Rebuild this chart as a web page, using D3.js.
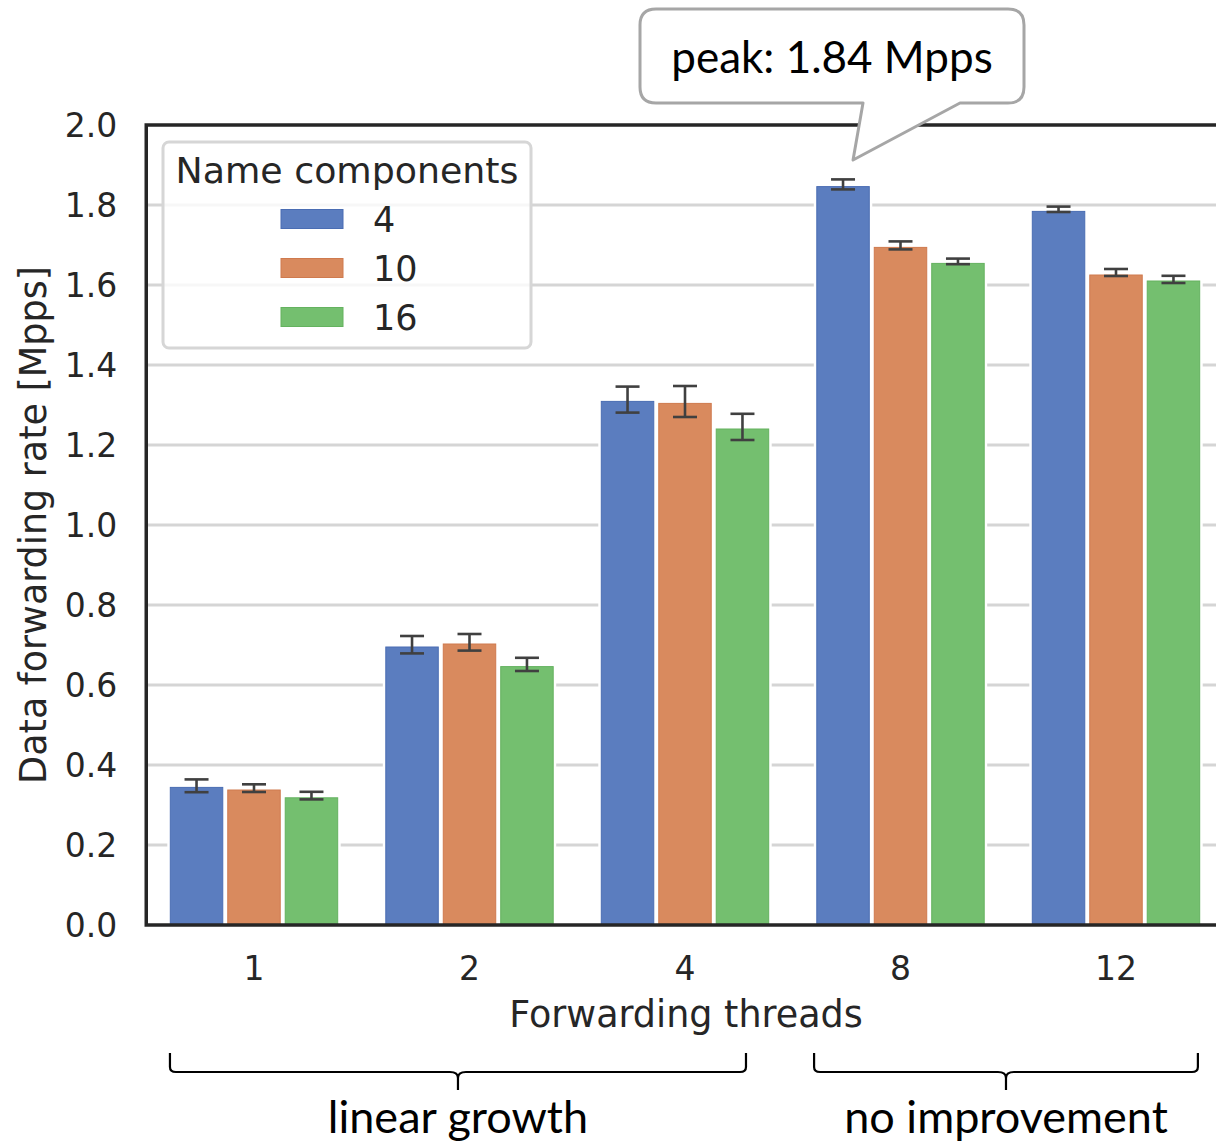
<!DOCTYPE html>
<html><head><meta charset="utf-8">
<script src="https://cdn.jsdelivr.net/npm/d3@7"></script>
<style>html,body{margin:0;padding:0;background:#fff;} svg{display:block;}</style>
</head><body><svg id="c" width="1216" height="1142"></svg>
<script>
const threads = ["1","2","4","8","12"];
const series = ["4","10","16"];
const colors = ["#5b7dbf","#d98a5e","#74bf6f"];
const edgeColors = ["#4a6db3","#cf7a4e","#64b25f"];
// mean values per series (Name components), per thread count
const means = [
  [0.344, 0.695, 1.309, 1.846, 1.784],
  [0.3375, 0.7025, 1.304, 1.694, 1.625],
  [0.318, 0.646, 1.240, 1.654, 1.610]
];
const ciLow = [
  [0.332, 0.679, 1.281, 1.839, 1.7825],
  [0.3325, 0.686, 1.270, 1.689, 1.6225],
  [0.314, 0.635, 1.2125, 1.652, 1.605]
];
const ciHigh = [
  [0.364, 0.7225, 1.346, 1.864, 1.796],
  [0.3517, 0.7275, 1.3475, 1.709, 1.640],
  [0.333, 0.668, 1.278, 1.666, 1.623]
];
const yTicks = [0,0.2,0.4,0.6,0.8,1.0,1.2,1.4,1.6,1.8,2.0];
const legendTitle = "Name components";
const xLabel = "Forwarding threads";
const yLabel = "Data forwarding rate [Mpps]";
const peakLabel = "peak: 1.84 Mpps";
const braceLabels = ["linear growth", "no improvement"];
const braceFrom = ["1", "8"];
const braceTo = ["4", "12"];

const svg = d3.select("#c");
const L = 146.25, R = 1223.75, T = 125, B = 925;
const x0 = d3.scaleBand().domain(threads).range([L, R]).padding(0);
const step = x0.bandwidth();
const x1 = d3.scaleBand().domain(series).range([0.1*step, 0.9*step]).padding(0);
const y = d3.scaleLinear().domain([0, 2.0]).range([B, T]);
const axisFont = "DejaVu Sans";
const annFont = "Lato, 'Open Sans', sans-serif";
const txt = "#262626";

// gridlines
svg.append("g").selectAll("line").data(yTicks.slice(1, -1)).join("line")
  .attr("x1", L).attr("x2", R).attr("y1", d => y(d)).attr("y2", d => y(d))
  .attr("stroke", "#d5d5d5").attr("stroke-width", 3);

// bars
const bars = svg.append("g");
series.forEach((s, si) => {
  threads.forEach((t, ti) => {
    const bx = x0(t) + x1(s);
    const bw = x1.bandwidth();
    const v = means[si][ti];
    bars.append("rect")
      .attr("x", bx - 0.5).attr("width", bw + 1)
      .attr("y", y(v) - 1).attr("height", B - y(v) + 1)
      .attr("fill", "#fff");
    bars.append("rect")
      .attr("x", bx + 2.5).attr("width", bw - 5)
      .attr("y", y(v)).attr("height", B - y(v))
      .attr("fill", colors[si]).attr("stroke", edgeColors[si]).attr("stroke-width", 1);
  });
});
// error bars
const eb = svg.append("g").attr("stroke", "#404040").attr("stroke-width", 2.6);
series.forEach((s, si) => {
  threads.forEach((t, ti) => {
    const cx = x0(t) + x1(s) + x1.bandwidth()/2;
    const lo = y(ciLow[si][ti]), hi = y(ciHigh[si][ti]);
    eb.append("line").attr("x1", cx).attr("x2", cx).attr("y1", lo).attr("y2", hi);
    eb.append("line").attr("x1", cx-12).attr("x2", cx+12).attr("y1", lo).attr("y2", lo);
    eb.append("line").attr("x1", cx-12).attr("x2", cx+12).attr("y1", hi).attr("y2", hi);
  });
});

// frame
svg.append("rect").attr("x", L).attr("y", T).attr("width", R-L).attr("height", B-T)
  .attr("fill", "none").attr("stroke", "#262626").attr("stroke-width", 3.5);

// y axis
const yAxis = d3.axisLeft(y).tickValues(yTicks).tickFormat(d3.format(".1f")).tickSize(0).tickPadding(29);
const gy = svg.append("g").attr("transform", `translate(${L},0)`).call(yAxis);
gy.select(".domain").remove();
gy.selectAll("text").attr("font-family", axisFont).attr("font-size", 33).attr("fill", txt).attr("dy", "0.36em");

// x axis
const xAxis = d3.axisBottom(x0).tickSize(0).tickPadding(32);
const gx = svg.append("g").attr("transform", `translate(0,${B})`).call(xAxis);
gx.select(".domain").remove();
gx.selectAll("text").attr("font-family", axisFont).attr("font-size", 33).attr("fill", txt);

svg.append("text").attr("x", 686).attr("y", 1027).attr("text-anchor", "middle")
  .attr("font-family", axisFont).attr("font-size", 36.5).attr("fill", txt).text(xLabel);
svg.append("text").attr("transform", "translate(46,525) rotate(-90)").attr("text-anchor", "middle")
  .attr("font-family", axisFont).attr("font-size", 36.5).attr("fill", txt).text(yLabel);

// legend
const lg = svg.append("g");
lg.append("rect").attr("x", 163).attr("y", 142).attr("width", 368).attr("height", 206).attr("rx", 6)
  .attr("fill", "#fff").attr("fill-opacity", 0.8).attr("stroke", "#d6d6d6").attr("stroke-width", 3);
lg.append("text").attr("x", 347).attr("y", 183).attr("text-anchor", "middle")
  .attr("font-family", axisFont).attr("font-size", 36.3).attr("fill", txt).text(legendTitle);
series.forEach((s, i) => {
  const cy = 219 + i*49;
  lg.append("rect").attr("x", 281).attr("y", cy - 9.5).attr("width", 62).attr("height", 19)
    .attr("fill", colors[i]).attr("stroke", edgeColors[i]).attr("stroke-width", 1);
  lg.append("text").attr("x", 373).attr("y", cy).attr("dy", "0.36em")
    .attr("font-family", axisFont).attr("font-size", 35).attr("fill", txt).text(s);
});

// callout
const bx0 = 640, bx1 = 1024, by0 = 9, by1 = 103, r = 16;
const tipX = x0("8") + x1("4") + x1.bandwidth()/2 + 10, tipY = 160;
const path = `M${bx0+r},${by0} H${bx1-r} Q${bx1},${by0} ${bx1},${by0+r} V${by1-r} Q${bx1},${by1} ${bx1-r},${by1}
 H960 L${tipX},${tipY} L863,${by1} H${bx0+r} Q${bx0},${by1} ${bx0},${by1-r} V${by0+r} Q${bx0},${by0} ${bx0+r},${by0} Z`;
svg.append("path").attr("d", path).attr("fill", "#fff").attr("stroke", "#a6a6a6").attr("stroke-width", 3)
  .attr("stroke-linejoin", "round");
svg.append("text").attr("x", 832).attr("y", 73).attr("text-anchor", "middle")
  .attr("font-family", annFont).attr("font-size", 44).attr("fill", "#000").text(peakLabel);

// braces
const braceStartFrac = [0.11, 0.099];
const braceEndFrac = [0.783, 0.88];
const bg = svg.append("g");
braceLabels.forEach((lab, i) => {
  const xa = x0(braceFrom[i]) + braceStartFrac[i]*step, xb = x0(braceTo[i]) + braceEndFrac[i]*step;
  const xm = (xa + xb)/2;
  const yT = 1053, yH = 1072, yD = 1090;
  const d = `M${xa},${yT} V${yH-5} Q${xa},${yH} ${xa+6},${yH} H${xm-8} Q${xm},${yH} ${xm},${yH+6} V${yD}
   M${xm},${yH+6} Q${xm},${yH} ${xm+8},${yH} H${xb-6} Q${xb},${yH} ${xb},${yH-5} V${yT}`;
  bg.append("path").attr("d", d).attr("fill", "none").attr("stroke", "#000").attr("stroke-width", 2.2);
  bg.append("text").attr("x", xm).attr("y", 1133).attr("text-anchor", "middle")
    .attr("font-family", annFont).attr("font-size", 45).attr("fill", "#000").text(lab);
});
</script></body></html>
